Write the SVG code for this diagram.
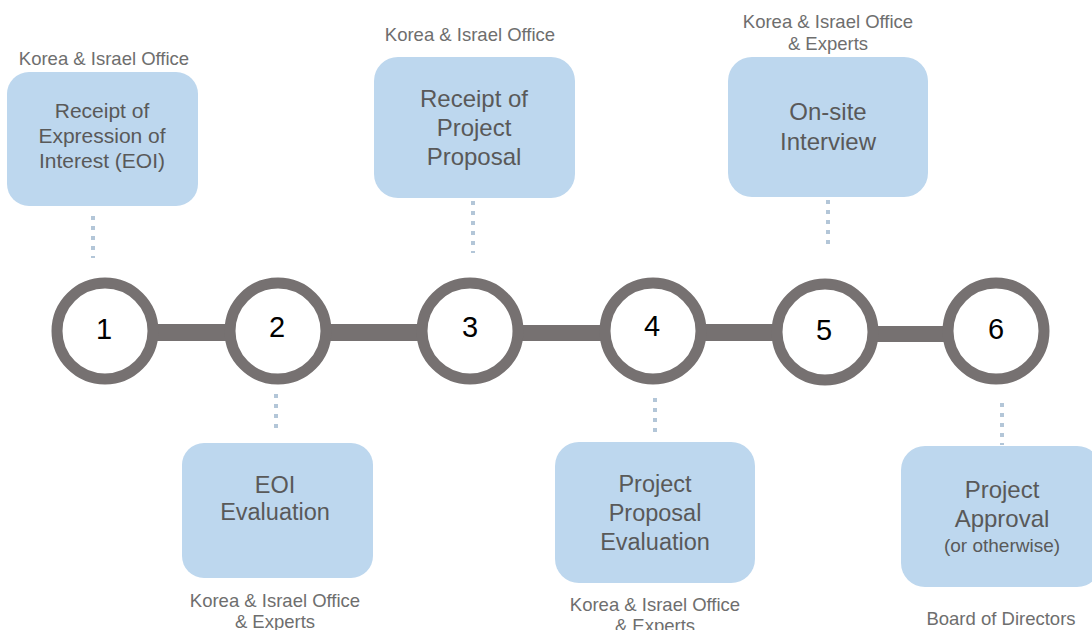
<svg xmlns="http://www.w3.org/2000/svg" width="1092" height="630" viewBox="0 0 1092 630">
  <style>
    .box { fill: #bdd7ee; }
    .btxt { font-family: "Liberation Sans", Arial, sans-serif; fill: #595959; text-anchor: middle; }
    .lbl { font-family: "Liberation Sans", Arial, sans-serif; fill: #6e6e6e; font-size: 18.5px; text-anchor: middle; }
    .ring { fill: #ffffff; stroke: #767171; stroke-width: 11; }
    .num { font-family: "Liberation Sans", Arial, sans-serif; fill: #000000; font-size: 29px; text-anchor: middle; }
    .bar { fill: #767171; }
    .dots { stroke: #b3c6d8; stroke-width: 4; stroke-dasharray: 4 6; fill: none; }
  </style>
  <rect width="1092" height="630" fill="#ffffff"/>

  <!-- timeline bars and dotted leaders -->
  <g id="connectors">
    <rect class="bar" x="150" y="324" width="80" height="17"/>
    <rect class="bar" x="325" y="324" width="100" height="17"/>
    <rect class="bar" x="515" y="325" width="92" height="16"/>
    <rect class="bar" x="700" y="324" width="78" height="17"/>
    <rect class="bar" x="872" y="326" width="76" height="16"/>
    <line class="dots" x1="93" y1="216" x2="93" y2="258"/>
    <line class="dots" x1="276" y1="394" x2="276" y2="434"/>
    <line class="dots" x1="473" y1="201" x2="473" y2="253"/>
    <line class="dots" x1="655" y1="398" x2="655" y2="438"/>
    <line class="dots" x1="828" y1="200" x2="828" y2="248"/>
    <line class="dots" x1="1002" y1="403" x2="1002" y2="445"/>
  </g>

  <!-- numbered stages -->
  <g id="step1">
    <circle class="ring" cx="105" cy="331" r="48"/>
    <text class="num" x="104" y="339">1</text>
  </g>
  <g id="step2">
    <circle class="ring" cx="278" cy="331" r="48"/>
    <text class="num" x="277" y="337">2</text>
  </g>
  <g id="step3">
    <circle class="ring" cx="470" cy="331" r="48"/>
    <text class="num" x="470" y="337">3</text>
  </g>
  <g id="step4">
    <circle class="ring" cx="653" cy="331" r="48"/>
    <text class="num" x="652" y="336">4</text>
  </g>
  <g id="step5">
    <circle class="ring" cx="825" cy="332" r="48"/>
    <text class="num" x="824" y="340">5</text>
  </g>
  <g id="step6">
    <circle class="ring" cx="996" cy="331" r="48"/>
    <text class="num" x="996" y="339">6</text>
  </g>

  <!-- stage boxes -->
  <g id="box1">
    <text class="lbl" x="104" y="65">Korea &amp; Israel Office</text>
    <rect class="box" x="7" y="72" width="191" height="134" rx="22"/>
    <text class="btxt" font-size="21" x="102" y="118">Receipt of</text>
    <text class="btxt" font-size="21" x="102" y="143">Expression of</text>
    <text class="btxt" font-size="21" x="102" y="168">Interest (EOI)</text>
  </g>
  <g id="box2">
    <rect class="box" x="182" y="443" width="191" height="135" rx="22"/>
    <text class="btxt" font-size="23.5" x="275" y="493">EOI</text>
    <text class="btxt" font-size="23.5" x="275" y="520">Evaluation</text>
    <text class="lbl" x="275" y="607">Korea &amp; Israel Office</text>
    <text class="lbl" x="275" y="628">&amp; Experts</text>
  </g>
  <g id="box3">
    <text class="lbl" x="470" y="41">Korea &amp; Israel Office</text>
    <rect class="box" x="374" y="57" width="201" height="141" rx="24"/>
    <text class="btxt" font-size="24" x="474" y="107">Receipt of</text>
    <text class="btxt" font-size="24" x="474" y="136">Project</text>
    <text class="btxt" font-size="24" x="474" y="165">Proposal</text>
  </g>
  <g id="box4">
    <rect class="box" x="555" y="442" width="200" height="141" rx="24"/>
    <text class="btxt" font-size="23.5" x="655" y="492">Project</text>
    <text class="btxt" font-size="23.5" x="655" y="521">Proposal</text>
    <text class="btxt" font-size="23.5" x="655" y="550">Evaluation</text>
    <text class="lbl" x="655" y="611">Korea &amp; Israel Office</text>
    <text class="lbl" x="655" y="632">&amp; Experts</text>
  </g>
  <g id="box5">
    <text class="lbl" x="828" y="28">Korea &amp; Israel Office</text>
    <text class="lbl" x="828" y="50">&amp; Experts</text>
    <rect class="box" x="728" y="57" width="200" height="140" rx="24"/>
    <text class="btxt" font-size="24" x="828" y="120">On-site</text>
    <text class="btxt" font-size="24" x="828" y="150">Interview</text>
  </g>
  <g id="box6">
    <rect class="box" x="901" y="446" width="200" height="141" rx="24"/>
    <text class="btxt" font-size="24" x="1002" y="498">Project</text>
    <text class="btxt" font-size="24" x="1002" y="527">Approval</text>
    <text class="btxt" font-size="19" x="1002" y="552">(or otherwise)</text>
    <text class="lbl" x="1001" y="625">Board of Directors</text>
  </g>
</svg>
